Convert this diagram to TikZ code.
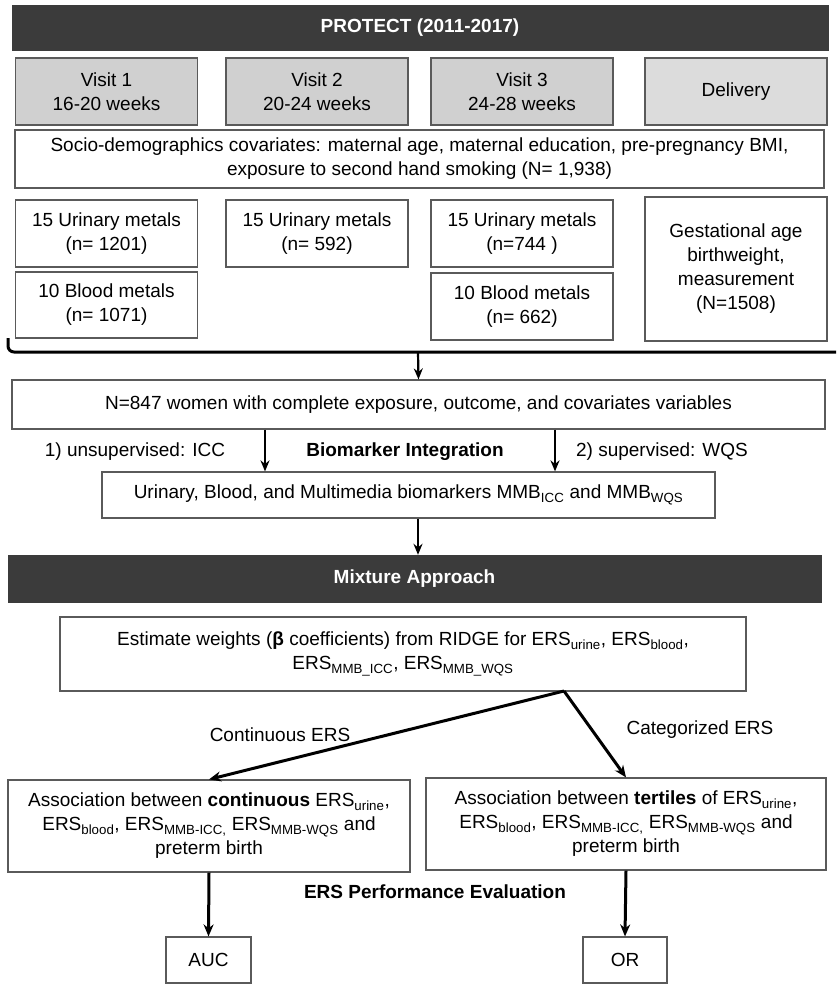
\documentclass[tikz,border=0pt]{standalone}
\usepackage{fontspec}
\setmainfont{Liberation Sans}
\usetikzlibrary{arrows.meta}
\definecolor{barfill}{HTML}{3B3B3B}
\definecolor{visitfill}{HTML}{D0D0D0}
\definecolor{delfill}{HTML}{DCDCDC}
\definecolor{edge}{HTML}{5A5A5A}
\newcommand{\ssub}[1]{\textsubscript{#1}}
\begin{document}
\begin{tikzpicture}[x=1pt, y=-1pt, font=\fontsize{19}{24}\selectfont,
    box/.style={draw=edge, line width=1.2pt, fill=white, align=center, inner sep=2pt},
    bar/.style={draw=barfill, fill=barfill, text=white, font=\fontsize{19}{24}\selectfont\bfseries},
    arr/.style={-{Stealth[length=11pt,width=9pt]}, line width=2.2pt},
    bigarr/.style={-{Stealth[length=12pt,width=10pt]}, line width=3pt}]
    \useasboundingbox (0,0) rectangle (836,984);
    \node [bar, minimum width=816pt, minimum height=45pt] (protect) at (420,27.5) {PROTECT (2011-2017)};
    \foreach \x/\name/\txt in {106.5/v1/{Visit 1\\16-20 weeks}, 317/v2/{Visit 2\\20-24 weeks}, 522/v3/{Visit 3\\24-28 weeks}}
        \node [box, fill=visitfill, minimum width=182pt, minimum height=67pt] (\name) at (\x,91.5) {\txt};
    \node [box, fill=delfill, minimum width=182pt, minimum height=67pt] (delivery) at (736,91.5) {Delivery};
    \node [box, minimum width=809pt, minimum height=58pt] (socio) at (419.5,159) {Socio-demographics covariates: maternal age, maternal education, pre-pregnancy BMI,\\ exposure to second hand smoking (N= 1,938)};
    \foreach \x/\name/\txt in {106.5/u1/{15 Urinary metals\\(n= 1201)}, 317/u2/{15 Urinary metals\\(n= 592)}, 522/u3/{15 Urinary metals\\(n=744 )}}
        \node [box, minimum width=182pt, minimum height=67pt] (\name) at (\x,233.5) {\txt};
    \node [box, minimum width=182pt, minimum height=66pt] (b1) at (106.5,305) {10 Blood metals\\(n= 1071)};
    \node [box, minimum width=182pt, minimum height=67pt] (b3) at (522,306.5) {10 Blood metals\\(n= 662)};
    \node [box, minimum width=182pt, minimum height=144pt] (gest) at (736,269) {Gestational age\\birthweight,\\measurement\\(N=1508)};
    \coordinate (brL) at (8,338);
    \coordinate (brR) at (836,352);
    \coordinate (brM) at (418,352);
    \draw [line width=3pt, rounded corners=6pt] (brL) |- (brR);
    \node [box, minimum width=813pt, minimum height=49pt] (women) at (418.5,404.5) {N=847 women with complete exposure, outcome, and covariates variables};
    \draw [arr] (brM) -- (women.north);
    \node [box, minimum width=613pt, minimum height=46pt] (mmb) at (408.5,495) {Urinary, Blood, and Multimedia biomarkers MMB\ssub{ICC} and MMB\ssub{WQS}};
    \draw [arr] (women.south -| 265,0) -- (mmb.north -| 265,0);
    \draw [arr] (women.south -| 555,0) -- (mmb.north -| 555,0);
    \node (unsup) at (135,452) {1) unsupervised: ICC};
    \node [font=\fontsize{19}{24}\selectfont\bfseries] (integ) at (405,452) {Biomarker Integration};
    \node (sup) at (662,452) {2) supervised: WQS};
    \node [bar, minimum width=813pt, minimum height=47pt] (mixture) at (414.5,578.5) {Mixture Approach};
    \draw [arr] (mmb.south -| brM) -- (mixture.north -| brM);
    \node [box, minimum width=686pt, minimum height=74pt] (ridge) at (403,654) {Estimate weights (\textbf{β} coefficients) from RIDGE for ERS\ssub{urine}, ERS\ssub{blood},\\ ERS\ssub{MMB\_ICC}, ERS\ssub{MMB\_WQS}};
    \coordinate (split) at (564,691);
    \node [box, minimum width=402pt, minimum height=92pt] (assocL) at (209,826) {Association between \textbf{continuous} ERS\ssub{urine},\\ ERS\ssub{blood}, ERS\ssub{MMB-ICC,} ERS\ssub{MMB-WQS} and\\ preterm birth};
    \node [box, minimum width=400pt, minimum height=92pt] (assocR) at (626,824) {Association between \textbf{tertiles} of ERS\ssub{urine},\\ ERS\ssub{blood}, ERS\ssub{MMB-ICC,} ERS\ssub{MMB-WQS} and\\ preterm birth};
    \draw [bigarr] (split) -- (assocL.north);
    \draw [bigarr] (split) -- (assocR.north);
    \node (cont) at (280,735) {Continuous ERS};
    \node (categ) at (700,730) {Categorized ERS};
    \node [font=\fontsize{19}{24}\selectfont\bfseries] (perf) at (435,892) {ERS Performance Evaluation};
    \node [box, minimum width=85pt, minimum height=46pt] (auc) at (208.5,960) {AUC};
    \node [box, minimum width=84pt, minimum height=46pt] (or) at (625,960) {OR};
    \draw [bigarr] (assocL.south) -- (auc.north);
    \draw [bigarr] (assocR.south) -- (or.north);
\end{tikzpicture}
\end{document}
